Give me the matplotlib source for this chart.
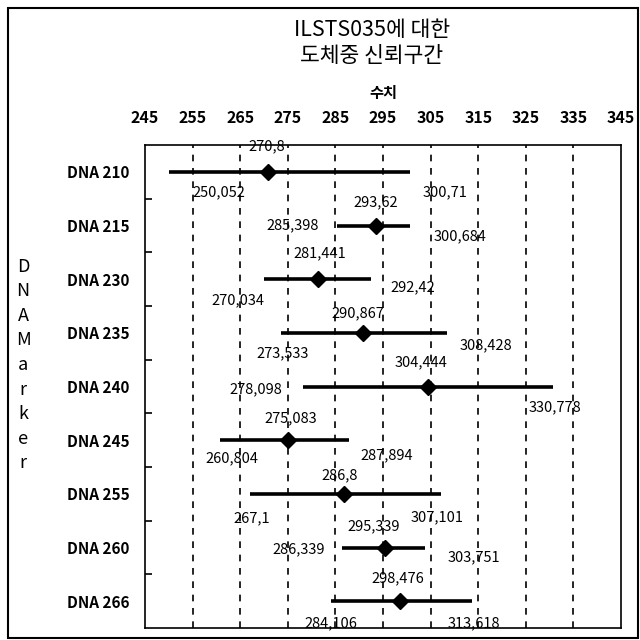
import matplotlib
matplotlib.use("Agg")
import matplotlib.pyplot as plt
from matplotlib.patches import Rectangle
from matplotlib.ticker import FixedLocator

plt.rcParams['font.family'] = ['Noto Sans CJK KR', 'DejaVu Sans']

markers = ["DNA 210", "DNA 215", "DNA 230", "DNA 235", "DNA 240",
           "DNA 245", "DNA 255", "DNA 260", "DNA 266"]
lower = [250.052, 285.398, 270.034, 273.533, 278.098, 260.804, 267.1, 286.339, 284.106]
mean = [270.8, 293.62, 281.441, 290.867, 304.444, 275.083, 286.8, 295.339, 298.476]
upper = [300.71, 300.684, 292.42, 308.428, 330.778, 287.894, 307.101, 303.751, 313.618]
xticks = [245, 255, 265, 275, 285, 295, 305, 315, 325, 335, 345]

# label offsets (x in data units, y in pixels downward) relative to each value
mean_off = [(-0.3, -26), (-0.2, -23), (0.2, -26), (-1.2, -20), (-1.4, -24),
            (0.5, -22), (-0.9, -19), (-2.2, -21), (-0.3, -23)]
low_off = [(10.5, 20), (-9.4, 0), (-5.5, 21), (0.4, 20), (-9.8, 3),
           (2.4, 18), (0.4, 24), (-9.0, 2), (0.0, 22)]
up_off = [(7.4, 20), (10.4, 11), (8.8, 8), (8.2, 12), (0.4, 21),
          (7.8, 15), (-0.7, 23), (10.4, 10), (0.5, 22)]

fig = plt.figure(figsize=(6.4, 6.4), dpi=100)
ax = fig.add_axes([145/640, 1-628/640, (621-145)/640, (628-145)/640])

rows = list(range(len(markers)))
ax.set_xlim(245, 345)
ax.set_ylim(len(markers)-0.5, -0.5)
row_px = (628-145)/len(markers)

for i in rows:
    ax.plot([lower[i], upper[i]], [i, i], color='black', lw=2.6, solid_capstyle='butt', zorder=3)
    ax.plot(mean[i], i, marker='D', color='black', ms=8, zorder=4)

def fmt(v):
    return str(v).replace('.', ',')

for i in rows:
    for val, off in ((mean[i], mean_off[i]), (lower[i], low_off[i]), (upper[i], up_off[i])):
        ax.text(val + off[0], i + off[1]/row_px, fmt(val), ha='center', va='center',
                fontsize=10.5, color='black', zorder=5)

# grid
ax.xaxis.set_major_locator(FixedLocator(xticks))
ax.xaxis.tick_top()
ax.tick_params(axis='x', length=0, labelsize=11.5, pad=14)
for lbl in ax.get_xticklabels():
    lbl.set_fontweight('bold')
for xv in xticks[1:-1]:
    ax.axvline(xv, color='black', lw=1.2, ls=(0, (4, 4)), zorder=1)

ax.set_yticks(rows)
ax.set_yticklabels(markers, fontsize=11, fontweight='bold')
ax.tick_params(axis='y', length=0, pad=11)
ax.yaxis.set_minor_locator(FixedLocator([r + 0.5 for r in rows[:-1]]))
ax.tick_params(axis='y', which='minor', direction='in', length=5, width=1.2)

for s in ax.spines.values():
    s.set_linewidth(1.2)
    s.set_color('black')

ax.set_xlabel('수치', fontsize=11, fontweight='bold', labelpad=8)
ax.xaxis.set_label_position('top')

fig.text(372/640, 1-43/640, 'ILSTS035에 대한\n도체중 신뢰구간', ha='center', va='center',
         fontsize=15.5, linespacing=1.25)

fig.text(23/640, 1-365/640, '\n'.join('DNAMarker'), ha='center', va='center',
         fontsize=13, linespacing=1.47)

fig.patches.append(Rectangle((8/640, 2/640), 630/640, 630/640, transform=fig.transFigure,
                             fill=False, edgecolor='black', lw=1.5))

fig.savefig('out.png', dpi=100)
